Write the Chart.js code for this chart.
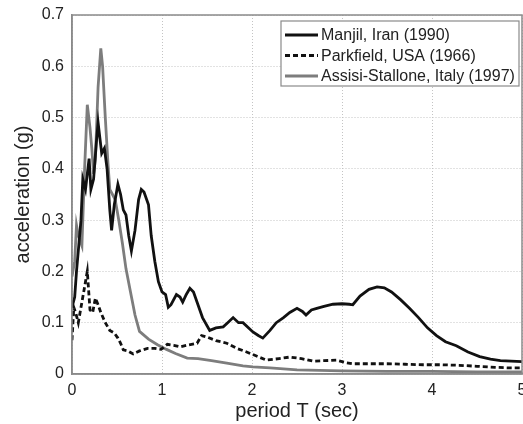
<!DOCTYPE html>
<html>
<head>
<meta charset="utf-8">
<script src="https://cdn.jsdelivr.net/npm/chart.js@4/dist/chart.umd.min.js"></script>
<style>
  html, body { margin: 0; padding: 0; background: #fff; }
  #c { display: block; }
</style>
</head>
<body>
<canvas id="c" width="523" height="424"></canvas>
<script>
// ---- data ----
const seriesNames = ['Manjil, Iran (1990)', 'Parkfield, USA (1966)', 'Assisi-Stallone, Italy (1997)'];

const manjilT = [0, 0.03, 0.05, 0.08, 0.1, 0.12, 0.15, 0.17, 0.19, 0.21, 0.24, 0.27, 0.29, 0.31, 0.33, 0.36, 0.39, 0.42, 0.44, 0.47, 0.51, 0.54, 0.57, 0.6, 0.63, 0.66, 0.7, 0.74, 0.77, 0.8, 0.85, 0.88, 0.92, 0.96, 1.0, 1.04, 1.07, 1.1, 1.16, 1.2, 1.23, 1.27, 1.31, 1.35, 1.39, 1.45, 1.53, 1.6, 1.68, 1.73, 1.79, 1.85, 1.9, 1.96, 2.01, 2.07, 2.12, 2.2, 2.27, 2.35, 2.42, 2.5, 2.56, 2.6, 2.66, 2.72, 2.8, 2.9, 3.0, 3.08, 3.12, 3.2, 3.3, 3.39, 3.47, 3.55, 3.65, 3.75, 3.85, 3.95, 4.05, 4.15, 4.27, 4.4, 4.53, 4.65, 4.76, 4.88, 5.0];
const manjilA = [0.13, 0.15, 0.2, 0.26, 0.3, 0.38, 0.36, 0.39, 0.42, 0.36, 0.38, 0.45, 0.49, 0.46, 0.43, 0.44, 0.40, 0.32, 0.28, 0.33, 0.37, 0.35, 0.32, 0.31, 0.27, 0.24, 0.28, 0.34, 0.36, 0.355, 0.33, 0.27, 0.22, 0.18, 0.16, 0.155, 0.13, 0.135, 0.155, 0.15, 0.14, 0.155, 0.167, 0.16, 0.14, 0.11, 0.085, 0.09, 0.092, 0.1, 0.11, 0.1, 0.1, 0.09, 0.082, 0.075, 0.07, 0.085, 0.1, 0.11, 0.12, 0.128, 0.122, 0.115, 0.125, 0.128, 0.132, 0.136, 0.137, 0.136, 0.135, 0.152, 0.165, 0.17, 0.168, 0.16, 0.145, 0.128, 0.11, 0.09, 0.075, 0.063, 0.055, 0.043, 0.034, 0.029, 0.026, 0.025, 0.024];

const parkfieldT = [0, 0.02, 0.04, 0.07, 0.1, 0.13, 0.17, 0.2, 0.23, 0.26, 0.29, 0.32, 0.37, 0.42, 0.47, 0.51, 0.54, 0.57, 0.62, 0.68, 0.75, 0.84, 0.92, 0.99, 1.06, 1.13, 1.2, 1.3, 1.39, 1.44, 1.5, 1.6, 1.72, 1.83, 1.94, 2.05, 2.16, 2.3, 2.42, 2.55, 2.68, 2.8, 2.94, 3.05, 3.12, 3.3, 3.5, 3.7, 3.9, 4.1, 4.3, 4.5, 4.7, 4.85, 5.0];
const parkfieldA = [0.066, 0.13, 0.12, 0.1, 0.13, 0.16, 0.2, 0.125, 0.12, 0.148, 0.135, 0.12, 0.1, 0.085, 0.08, 0.07, 0.06, 0.047, 0.045, 0.039, 0.045, 0.05, 0.05, 0.048, 0.058, 0.056, 0.053, 0.057, 0.06, 0.075, 0.072, 0.065, 0.06, 0.05, 0.043, 0.035, 0.027, 0.03, 0.033, 0.03, 0.025, 0.026, 0.027, 0.022, 0.02, 0.02, 0.02, 0.019, 0.018, 0.018, 0.017, 0.015, 0.013, 0.012, 0.012];

const assisiT = [0, 0.03, 0.05, 0.07, 0.09, 0.11, 0.14, 0.17, 0.2, 0.22, 0.24, 0.26, 0.29, 0.32, 0.34, 0.37, 0.4, 0.42, 0.45, 0.48, 0.52, 0.56, 0.6, 0.65, 0.7, 0.75, 0.85, 0.95, 1.05, 1.15, 1.28, 1.4, 1.55, 1.72, 1.9, 2.01, 2.2, 2.5, 3.0, 3.5, 4.0, 4.5, 5.0];
const assisiA = [0.19, 0.22, 0.29, 0.27, 0.26, 0.25, 0.4, 0.525, 0.48, 0.44, 0.39, 0.42, 0.56, 0.635, 0.6, 0.5, 0.41, 0.36, 0.35, 0.34, 0.3, 0.255, 0.205, 0.16, 0.115, 0.083, 0.068, 0.057, 0.048, 0.04, 0.031, 0.03, 0.026, 0.021, 0.016, 0.014, 0.012, 0.008, 0.006, 0.005, 0.005, 0.004, 0.004];

const xTickLabels = ['0', '1', '2', '3', '4', '5'];
const yTickLabels = ['0', '0.1', '0.2', '0.3', '0.4', '0.5', '0.6', '0.7'];

// ---- build chart ----
function pts(T, A) { return T.map((t, i) => ({ x: t, y: A[i] })); }

const TEXT = '#222';
const FONT = 'Liberation Sans, Arial, sans-serif';

const boxPlugin = {
  id: 'boxAndLegend',
  afterDraw(chart) {
    const { ctx, chartArea: a } = chart;
    ctx.save();
    // axes box
    ctx.strokeStyle = '#8a8a8a';
    ctx.lineWidth = 1.5;
    ctx.setLineDash([]);
    ctx.strokeRect(a.left, a.top, a.right - a.left, a.bottom - a.top);
    // legend
    const lx = 281, ly = 21, lw = 238, lh = 65;
    ctx.fillStyle = '#fff';
    ctx.fillRect(lx, ly, lw, lh);
    ctx.strokeStyle = '#8a8a8a';
    ctx.lineWidth = 1.2;
    ctx.strokeRect(lx, ly, lw, lh);
    const rows = [35, 55.5, 76];
    ctx.font = '16px ' + FONT;
    ctx.textBaseline = 'middle';
    ctx.textAlign = 'left';
    chart.data.datasets.forEach((ds, i) => {
      const y = rows[i];
      ctx.strokeStyle = ds.borderColor;
      ctx.lineWidth = ds.borderWidth;
      ctx.setLineDash(ds.borderDash || []);
      ctx.beginPath();
      ctx.moveTo(285, y);
      ctx.lineTo(318, y);
      ctx.stroke();
      ctx.setLineDash([]);
      ctx.fillStyle = TEXT;
      ctx.fillText(ds.label, 321, y + 1);
    });
    ctx.restore();
  }
};

new Chart(document.getElementById('c'), {
  type: 'scatter',
  data: {
    datasets: [
      { label: seriesNames[0], data: pts(manjilT, manjilA), showLine: true, borderColor: '#111', borderWidth: 2.8, pointRadius: 0, tension: 0, order: 1 },
      { label: seriesNames[1], data: pts(parkfieldT, parkfieldA), showLine: true, borderColor: '#111', borderWidth: 2.8, borderDash: [5, 3], pointRadius: 0, tension: 0, order: 2 },
      { label: seriesNames[2], data: pts(assisiT, assisiA), showLine: true, borderColor: '#7d7d7d', borderWidth: 2.8, pointRadius: 0, tension: 0, order: 3 }
    ]
  },
  options: {
    responsive: false,
    animation: false,
    layout: { padding: { top: 15, right: 1, left: 0, bottom: 0 } },
    plugins: { legend: { display: false }, tooltip: { enabled: false } },
    scales: {
      x: {
        type: 'linear', min: 0, max: 5,
        ticks: { stepSize: 1, color: TEXT, font: { size: 16, family: FONT }, padding: 7,
                 callback: (v) => xTickLabels[Math.round(v)] },
        grid: { color: '#c4c4c4', lineWidth: 1, drawTicks: false },
        border: { color: '#8a8a8a', width: 1.5, dash: [1, 2] },
        title: { display: true, text: 'period T (sec)', color: TEXT, font: { size: 20, family: FONT }, padding: { top: 0, bottom: 1 } },
        afterFit: (s) => { s.height = 50; s.paddingLeft = 0; s.paddingRight = 0; }
      },
      y: {
        min: 0, max: 0.7,
        ticks: { stepSize: 0.1, color: TEXT, font: { size: 16, family: FONT }, padding: 8,
                 callback: (v) => yTickLabels[Math.round(v * 10)] },
        grid: { color: '#c4c4c4', lineWidth: 1, drawTicks: false },
        border: { color: '#8a8a8a', width: 1.5, dash: [1, 2] },
        title: { display: true, text: 'acceleration (g)', color: TEXT, font: { size: 20, family: FONT }, padding: { top: 11, bottom: 0 } },
        afterFit: (s) => { s.width = 72; s.paddingTop = 0; s.paddingBottom = 0; }
      }
    }
  },
  plugins: [boxPlugin]
});
</script>
</body>
</html>
